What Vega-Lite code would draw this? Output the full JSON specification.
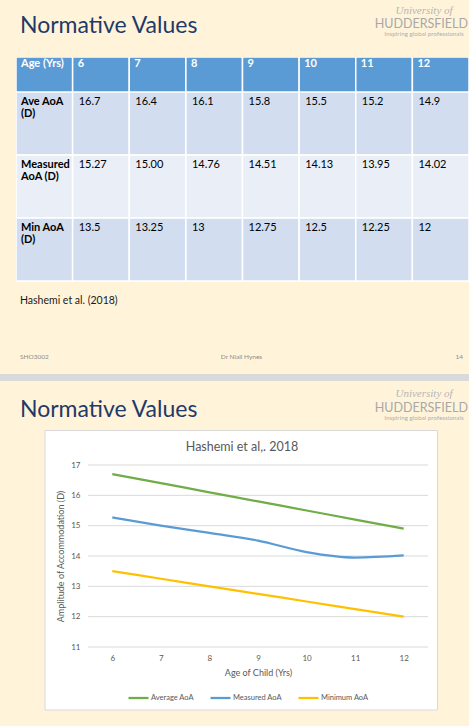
{
  "$schema": "https://vega.github.io/schema/vega-lite/v6.json",
  "background": "#FFF4DA",
  "padding": {"left": 0, "top": 0, "right": 0, "bottom": 15},
  "spacing": 0,
  "config": {"view": {"stroke": null}, "font": "Lato"},
  "datasets": {
    "cells": [
      {"row": "Age (Yrs)", "col": "Age (Yrs)", "text": "Age (Yrs)"},
      {"row": "Age (Yrs)", "col": "6", "text": "6"},
      {"row": "Age (Yrs)", "col": "7", "text": "7"},
      {"row": "Age (Yrs)", "col": "8", "text": "8"},
      {"row": "Age (Yrs)", "col": "9", "text": "9"},
      {"row": "Age (Yrs)", "col": "10", "text": "10"},
      {"row": "Age (Yrs)", "col": "11", "text": "11"},
      {"row": "Age (Yrs)", "col": "12", "text": "12"},
      {"row": "Ave AoA (D)", "col": "Age (Yrs)", "text": "Ave AoA\n(D)"},
      {"row": "Ave AoA (D)", "col": "6", "text": "16.7"},
      {"row": "Ave AoA (D)", "col": "7", "text": "16.4"},
      {"row": "Ave AoA (D)", "col": "8", "text": "16.1"},
      {"row": "Ave AoA (D)", "col": "9", "text": "15.8"},
      {"row": "Ave AoA (D)", "col": "10", "text": "15.5"},
      {"row": "Ave AoA (D)", "col": "11", "text": "15.2"},
      {"row": "Ave AoA (D)", "col": "12", "text": "14.9"},
      {"row": "Measured AoA (D)", "col": "Age (Yrs)", "text": "Measured\nAoA (D)"},
      {"row": "Measured AoA (D)", "col": "6", "text": "15.27"},
      {"row": "Measured AoA (D)", "col": "7", "text": "15.00"},
      {"row": "Measured AoA (D)", "col": "8", "text": "14.76"},
      {"row": "Measured AoA (D)", "col": "9", "text": "14.51"},
      {"row": "Measured AoA (D)", "col": "10", "text": "14.13"},
      {"row": "Measured AoA (D)", "col": "11", "text": "13.95"},
      {"row": "Measured AoA (D)", "col": "12", "text": "14.02"},
      {"row": "Min AoA (D)", "col": "Age (Yrs)", "text": "Min AoA\n(D)"},
      {"row": "Min AoA (D)", "col": "6", "text": "13.5"},
      {"row": "Min AoA (D)", "col": "7", "text": "13.25"},
      {"row": "Min AoA (D)", "col": "8", "text": "13"},
      {"row": "Min AoA (D)", "col": "9", "text": "12.75"},
      {"row": "Min AoA (D)", "col": "10", "text": "12.5"},
      {"row": "Min AoA (D)", "col": "11", "text": "12.25"},
      {"row": "Min AoA (D)", "col": "12", "text": "12"}
    ],
    "aoa": [
      {"age": 6, "series": "Average AoA", "value": 16.7},
      {"age": 7, "series": "Average AoA", "value": 16.4},
      {"age": 8, "series": "Average AoA", "value": 16.1},
      {"age": 9, "series": "Average AoA", "value": 15.8},
      {"age": 10, "series": "Average AoA", "value": 15.5},
      {"age": 11, "series": "Average AoA", "value": 15.2},
      {"age": 12, "series": "Average AoA", "value": 14.9},
      {"age": 6, "series": "Measured AoA", "value": 15.27},
      {"age": 7, "series": "Measured AoA", "value": 15.0},
      {"age": 8, "series": "Measured AoA", "value": 14.76},
      {"age": 9, "series": "Measured AoA", "value": 14.51},
      {"age": 10, "series": "Measured AoA", "value": 14.13},
      {"age": 11, "series": "Measured AoA", "value": 13.95},
      {"age": 12, "series": "Measured AoA", "value": 14.02},
      {"age": 6, "series": "Minimum AoA", "value": 13.5},
      {"age": 7, "series": "Minimum AoA", "value": 13.25},
      {"age": 8, "series": "Minimum AoA", "value": 13.0},
      {"age": 9, "series": "Minimum AoA", "value": 12.75},
      {"age": 10, "series": "Minimum AoA", "value": 12.5},
      {"age": 11, "series": "Minimum AoA", "value": 12.25},
      {"age": 12, "series": "Minimum AoA", "value": 12.0}
    ],
    "gridlines": [
      {"tick": 11}, {"tick": 12}, {"tick": 13}, {"tick": 14},
      {"tick": 15}, {"tick": 16}, {"tick": 17}
    ]
  },
  "vconcat": [
    {
      "width": 453,
      "height": 57,
      "layer": [
        {
          "data": {"values": [{"t": "Normative Values"}]},
          "mark": {"type": "text", "x": 4, "y": 33, "align": "left", "baseline": "alphabetic",
                   "fontSize": 23, "color": "#1F3A68"},
          "encoding": {"text": {"field": "t"}}
        },
        {
          "data": {"values": [{"t": "University of"}]},
          "mark": {"type": "text", "x": 408, "y": 14, "align": "center", "baseline": "alphabetic",
                   "font": "Liberation Serif", "fontStyle": "italic", "fontSize": 11, "color": "#B5B5B5"},
          "encoding": {"text": {"field": "t"}}
        },
        {
          "data": {"values": [{"t": "HUDDERSFIELD"}]},
          "mark": {"type": "text", "x": 452, "y": 28.3, "align": "right", "baseline": "alphabetic",
                   "fontSize": 12.5, "color": "#A8A8A8"},
          "encoding": {"text": {"field": "t"}}
        },
        {
          "data": {"values": [{"t": "Inspiring global professionals"}]},
          "mark": {"type": "text", "x": 408, "y": 36, "align": "center", "baseline": "alphabetic",
                   "fontSize": 6.3, "color": "#B0B0B0"},
          "encoding": {"text": {"field": "t"}}
        }
      ]
    },
    {
      "width": 453,
      "height": 35,
      "data": {"name": "cells"},
      "transform": [{"filter": "datum.row == 'Age (Yrs)'"}],
      "layer": [
        {
          "mark": {"type": "rect", "fill": "#5B9BD5", "stroke": "white", "strokeWidth": 1.5, "clip": true},
          "encoding": {
            "x": {"field": "col", "type": "ordinal", "sort": null, "axis": null,
                  "scale": {"type": "band", "domain": ["Age (Yrs)", "6", "7", "8", "9", "10", "11", "12"], "paddingInner": 0, "paddingOuter": 0}},
            "y": {"field": "row", "type": "ordinal", "axis": null,
                  "scale": {"type": "band", "domain": ["Age (Yrs)"], "paddingInner": 0, "paddingOuter": 0}}
          }
        },
        {
          "mark": {"type": "text", "align": "left", "baseline": "top", "dx": 5, "dy": 1,
                   "fontSize": 11, "fontWeight": "bold", "color": "white"},
          "encoding": {
            "x": {"field": "col", "type": "ordinal", "sort": null, "axis": null, "bandPosition": 0,
                  "scale": {"type": "band", "domain": ["Age (Yrs)", "6", "7", "8", "9", "10", "11", "12"], "paddingInner": 0, "paddingOuter": 0}},
            "y": {"field": "row", "type": "ordinal", "axis": null, "bandPosition": 0,
                  "scale": {"type": "band", "domain": ["Age (Yrs)"], "paddingInner": 0, "paddingOuter": 0}},
            "text": {"field": "text"}
          }
        }
      ]
    },
    {
      "width": 453,
      "height": 252,
      "layer": [
        {
          "data": {"name": "cells"},
          "transform": [{"filter": "datum.row != 'Age (Yrs)'"}],
          "mark": {"type": "rect", "stroke": "white", "strokeWidth": 1.5, "clip": true},
          "encoding": {
            "x": {"field": "col", "type": "ordinal", "sort": null, "axis": null,
                  "scale": {"type": "band", "domain": ["Age (Yrs)", "6", "7", "8", "9", "10", "11", "12"], "paddingInner": 0, "paddingOuter": 0}},
            "y": {"field": "row", "type": "ordinal", "axis": null,
                  "scale": {"type": "band", "domain": ["Ave AoA (D)", "Measured AoA (D)", "Min AoA (D)", "caption"], "paddingInner": 0, "paddingOuter": 0}},
            "fill": {"field": "row", "type": "nominal", "legend": null,
                     "scale": {"domain": ["Ave AoA (D)", "Measured AoA (D)", "Min AoA (D)"], "range": ["#D2DEEF", "#EAEFF7", "#D2DEEF"]}}
          }
        },
        {
          "data": {"name": "cells"},
          "transform": [{"filter": "datum.row != 'Age (Yrs)' && datum.col == 'Age (Yrs)'"}],
          "mark": {"type": "text", "align": "left", "baseline": "top", "dx": 5, "dy": 4,
                   "fontSize": 11, "fontWeight": "bold", "color": "black", "lineBreak": "\n", "lineHeight": 12},
          "encoding": {
            "x": {"field": "col", "type": "ordinal", "sort": null, "axis": null, "bandPosition": 0,
                  "scale": {"type": "band", "domain": ["Age (Yrs)", "6", "7", "8", "9", "10", "11", "12"], "paddingInner": 0, "paddingOuter": 0}},
            "y": {"field": "row", "type": "ordinal", "axis": null, "bandPosition": 0,
                  "scale": {"type": "band", "domain": ["Ave AoA (D)", "Measured AoA (D)", "Min AoA (D)", "caption"], "paddingInner": 0, "paddingOuter": 0}},
            "text": {"field": "text"}
          }
        },
        {
          "data": {"name": "cells"},
          "transform": [{"filter": "datum.row != 'Age (Yrs)' && datum.col != 'Age (Yrs)'"}],
          "mark": {"type": "text", "align": "left", "baseline": "top", "dx": 6, "dy": 4,
                   "fontSize": 11, "color": "black"},
          "encoding": {
            "x": {"field": "col", "type": "ordinal", "sort": null, "axis": null, "bandPosition": 0,
                  "scale": {"type": "band", "domain": ["Age (Yrs)", "6", "7", "8", "9", "10", "11", "12"], "paddingInner": 0, "paddingOuter": 0}},
            "y": {"field": "row", "type": "ordinal", "axis": null, "bandPosition": 0,
                  "scale": {"type": "band", "domain": ["Ave AoA (D)", "Measured AoA (D)", "Min AoA (D)", "caption"], "paddingInner": 0, "paddingOuter": 0}},
            "text": {"field": "text"}
          }
        },
        {
          "data": {"values": [{"row": "caption", "col": "Age (Yrs)", "text": "Hashemi et al. (2018)"}]},
          "mark": {"type": "text", "align": "left", "baseline": "top", "dx": 4, "dy": 15,
                   "fontSize": 10.5, "color": "#1A1A1A"},
          "encoding": {
            "x": {"field": "col", "type": "ordinal", "sort": null, "axis": null, "bandPosition": 0,
                  "scale": {"type": "band", "domain": ["Age (Yrs)", "6", "7", "8", "9", "10", "11", "12"], "paddingInner": 0, "paddingOuter": 0}},
            "y": {"field": "row", "type": "ordinal", "axis": null, "bandPosition": 0,
                  "scale": {"type": "band", "domain": ["Ave AoA (D)", "Measured AoA (D)", "Min AoA (D)", "caption"], "paddingInner": 0, "paddingOuter": 0}},
            "text": {"field": "text"}
          }
        }
      ]
    },
    {
      "width": 453,
      "height": 86,
      "layer": [
        {
          "data": {"values": [{"f": "SHO3002"}, {"f": "Dr Niall Hynes"}, {"f": "14"}]},
          "mark": {
            "type": "text", "y": 13, "baseline": "middle", "fontSize": 6.5, "color": "#8C8C8C",
            "align": {"expr": "datum.f == 'SHO3002' ? 'left' : datum.f == '14' ? 'right' : 'center'"},
            "dx": {"expr": "datum.f == 'SHO3002' ? 4 : datum.f == '14' ? -6 : -1"}
          },
          "encoding": {
            "x": {"field": "f", "type": "ordinal", "sort": null, "axis": null,
                  "scale": {"type": "point", "padding": 0, "domain": ["SHO3002", "Dr Niall Hynes", "14"]}},
            "text": {"field": "f"}
          }
        },
        {
          "data": {"values": [{}]},
          "mark": {"type": "rect", "x": -16, "x2": 453, "y": 30, "y2": 37, "fill": "#DADADA"},
          "encoding": {}
        },
        {
          "data": {"values": [{"t": "Normative Values"}]},
          "mark": {"type": "text", "x": 4, "y": 72.7, "align": "left", "baseline": "alphabetic",
                   "fontSize": 23, "color": "#1F3A68"},
          "encoding": {"text": {"field": "t"}}
        },
        {
          "data": {"values": [{"t": "University of"}]},
          "mark": {"type": "text", "x": 408, "y": 53, "align": "center", "baseline": "alphabetic",
                   "font": "Liberation Serif", "fontStyle": "italic", "fontSize": 11, "color": "#B5B5B5"},
          "encoding": {"text": {"field": "t"}}
        },
        {
          "data": {"values": [{"t": "HUDDERSFIELD"}]},
          "mark": {"type": "text", "x": 452, "y": 67.7, "align": "right", "baseline": "alphabetic",
                   "fontSize": 12.5, "color": "#A8A8A8"},
          "encoding": {"text": {"field": "t"}}
        },
        {
          "data": {"values": [{"t": "Inspiring global professionals"}]},
          "mark": {"type": "text", "x": 408, "y": 76, "align": "center", "baseline": "alphabetic",
                   "fontSize": 6.3, "color": "#B0B0B0"},
          "encoding": {"text": {"field": "t"}}
        }
      ]
    },
    {
      "spacing": 0,
      "hconcat": [
        {
          "width": 28,
          "height": 10,
          "data": {"values": []},
          "mark": "point",
          "encoding": {}
        },
        {
          "width": 340,
          "height": 182,
          "layer": [
            {
              "data": {"values": [{}]},
              "mark": {"type": "rect", "x": -43, "x2": 349.5, "y": -34.5, "y2": 245,
                       "fill": "white", "stroke": "#D9D9D9", "strokeWidth": 1},
              "encoding": {}
            },
            {
              "data": {"values": [{"t": "Hashemi et al,. 2018"}]},
              "mark": {"type": "text", "x": 154, "y": -18, "align": "center", "baseline": "middle",
                       "fontSize": 12.5, "color": "#595959"},
              "encoding": {"text": {"field": "t"}}
            },
            {
              "data": {"name": "gridlines"},
              "mark": {"type": "rule", "color": "#D9D9D9", "strokeWidth": 1},
              "encoding": {
                "y": {"field": "tick", "type": "quantitative",
                      "scale": {"domain": [11, 17], "nice": false, "zero": false},
                      "axis": {"title": "Amplitude of Accommodation (D)", "values": [11, 12, 13, 14, 15, 16, 17],
                               "domain": false, "ticks": false, "grid": false,
                               "labelFontSize": 8, "labelColor": "#595959", "labelPadding": 8,
                               "titleFontSize": 9, "titleFontWeight": "normal", "titleColor": "#595959", "titlePadding": 5,
                               "zindex": 1}}
              }
            },
            {
              "data": {"name": "aoa"},
              "mark": {"type": "line", "strokeWidth": 2.25, "interpolate": "monotone"},
              "encoding": {
                "x": {
                  "field": "age", "type": "ordinal",
                  "scale": {"type": "point", "padding": 0.5},
                  "axis": {"title": "Age of Child (Yrs)", "labelAngle": 0, "domain": false, "ticks": false, "grid": false,
                           "labelFontSize": 8, "labelColor": "#595959", "labelPadding": 7,
                           "titleFontSize": 9, "titleFontWeight": "normal", "titleColor": "#595959", "titlePadding": 6,
                           "zindex": 1}
                },
                "y": {
                  "field": "value", "type": "quantitative",
                  "scale": {"domain": [11, 17], "nice": false, "zero": false},
                  "axis": {"title": "Amplitude of Accommodation (D)", "values": [11, 12, 13, 14, 15, 16, 17],
                           "domain": false, "ticks": false, "grid": false,
                           "labelFontSize": 8, "labelColor": "#595959", "labelPadding": 8,
                           "titleFontSize": 9, "titleFontWeight": "normal", "titleColor": "#595959", "titlePadding": 5,
                           "zindex": 1}
                },
                "color": {
                  "field": "series", "type": "nominal",
                  "scale": {"domain": ["Average AoA", "Measured AoA", "Minimum AoA"], "range": ["#70AD47", "#5B9BD5", "#FFC000"]},
                  "legend": {"orient": "none", "legendX": 111, "legendY": 686.5, "direction": "horizontal", "title": null,
                             "symbolType": "stroke", "symbolStrokeWidth": 2.25, "symbolSize": 400,
                             "labelFontSize": 7.5, "labelColor": "#595959", "columnPadding": 12, "labelOffset": 1}
                }
              }
            }
          ]
        }
      ]
    }
  ]
}
